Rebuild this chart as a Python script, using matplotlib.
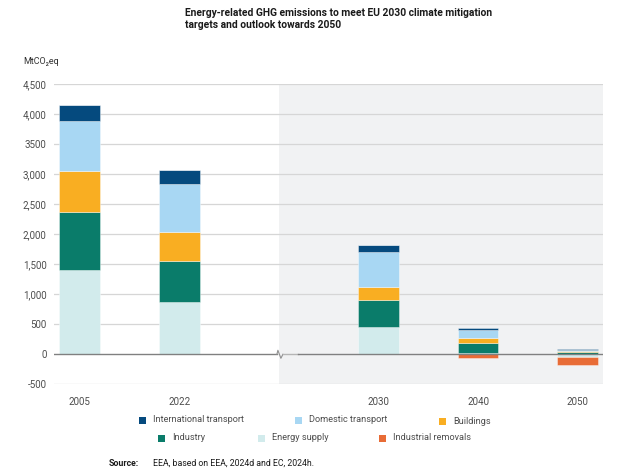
import matplotlib
matplotlib.use("Agg")
import matplotlib.pyplot as plt
from matplotlib.patches import Rectangle
import numpy as np

plt.rcParams['font.family'] = ['Roboto', 'DejaVu Sans']

years = ['2005', '2022', '2030', '2040', '2050']
xpos = [0, 1, 3, 4, 5]
break_x = 2

series = ['International transport', 'Domestic transport', 'Buildings',
          'Industry', 'Energy supply', 'Industrial removals']
colors = {
    'International transport': '#054a7e',
    'Domestic transport': '#a8d7f3',
    'Buildings': '#f9ae22',
    'Industry': '#0a7c6a',
    'Energy supply': '#d2ebec',
    'Industrial removals': '#e86c36',
}

energy_supply = [1397, 880, 461, 20, -50]
industry = [976, 680, 441, 162, 40]
buildings = [679, 472, 223, 83, 17]
domestic_transport = [836, 803, 580, 134, 13]
international_transport = [262, 245, 122, 39, 15]
industrial_removals = [0, 0, 0, -55, -120]

stack_order = [('Energy supply', energy_supply), ('Industry', industry),
               ('Buildings', buildings), ('Domestic transport', domestic_transport),
               ('International transport', international_transport),
               ('Industrial removals', industrial_removals)]

yticks = [-500, 0, 500, 1000, 1500, 2000, 2500, 3000, 3500, 4000, 4500]
ytick_labels = ['-500', '0', '500', '1,000', '1,500', '2,000', '2,500', '3,000',
                '3500', '4,000', '4,500']

fig = plt.figure(figsize=(6.22, 4.75), dpi=100)
ax = fig.add_axes([53.5 / 622, 1 - 384.3 / 475, (603 - 53.5) / 622, (384.3 - 84.3) / 475])

xmin, xmax = -0.263, 5.254
ax.set_xlim(xmin, xmax)
ax.set_ylim(-500, 4500)

# grey projection background
ax.axvspan(break_x, xmax, color='#f1f2f3', zorder=0, lw=0)

# gridlines
for yv in yticks:
    if yv != 0:
        ax.axhline(yv, color='#d6d6d6', lw=0.9, zorder=1)

pos_base = np.zeros(len(years))
neg_base = np.zeros(len(years))
width = 0.407
for name, vals in stack_order:
    vals = np.array(vals, dtype=float)
    bottoms = np.where(vals >= 0, pos_base, neg_base)
    ax.bar(xpos, vals, width=width, bottom=bottoms, color=colors[name],
           edgecolor=(1, 1, 1, 0.45), linewidth=0.6, zorder=3)
    pos_base = pos_base + np.where(vals >= 0, vals, 0)
    neg_base = neg_base + np.where(vals < 0, vals, 0)

# zero line with axis break
px = (xmax - xmin) / (603 - 53.5)  # data units per pixel in x
py = 5000 / 300.0                   # data units per pixel in y
ax.plot([xmin, break_x - 2 * px], [0, 0], color='#808080', lw=1.0, zorder=4)
ax.plot([break_x - 2 * px, break_x - 1 * px, break_x + 2 * px, break_x + 4 * px],
        [0, 4 * py, -4 * py, 0], color='#909090', lw=0.8, zorder=4)
ax.plot([break_x + 4 * px, break_x + 19 * px], [0, 0], color='#b5b5b5', lw=1.0, zorder=4)
ax.plot([break_x + 19 * px, xmax], [0, 0], color='#808080', lw=1.0, zorder=4)

ax.set_yticks(yticks)
ax.set_yticklabels(ytick_labels)
ax.set_xticks(xpos)
ax.set_xticklabels(years)
ax.tick_params(axis='y', length=0, pad=5, labelsize=7, labelcolor='#4d4d4d')
ax.tick_params(axis='x', length=0, pad=9, labelsize=7, labelcolor='#4d4d4d')
for s in ax.spines.values():
    s.set_visible(False)

# title
fig.text(185 / 622, 1 - 8 / 475, 'Energy-related GHG emissions to meet EU 2030 climate mitigation\ntargets and outlook towards 2050',
         ha='left', va='top', fontsize=7.4, fontweight='bold', color='#1a1a1a', linespacing=1.3)
fig.text(23 / 622, 1 - 62 / 475, 'MtCO₂eq', ha='left', va='center', fontsize=6.5, color='#333333',
         family=['Roboto', 'DejaVu Sans'])

# legend (manual placement)
legend_pos = {
    'International transport': (142, 420),
    'Domestic transport': (298, 420),
    'Buildings': (442, 421),
    'Industry': (161, 438),
    'Energy supply': (261, 438),
    'Industrial removals': (382, 438),
}
for name in series:
    cx, cy = legend_pos[name]
    fig.patches.append(Rectangle(((cx - 3.5) / 622, 1 - (cy + 3.5) / 475), 7 / 622, 7 / 475,
                                 transform=fig.transFigure, facecolor=colors[name], edgecolor='none'))
    fig.text((cx + 11) / 622, 1 - cy / 475, name, ha='left', va='center', fontsize=6.6, color='#4d4d4d')

fig.text(109 / 622, 1 - 463 / 475, 'Source:', ha='left', va='center', fontsize=6.3, fontweight='bold', color='#1a1a1a')
fig.text(153 / 622, 1 - 463 / 475, 'EEA, based on EEA, 2024d and EC, 2024h.', ha='left', va='center', fontsize=6.3, color='#1a1a1a')

fig.savefig('out.png', dpi=100)
